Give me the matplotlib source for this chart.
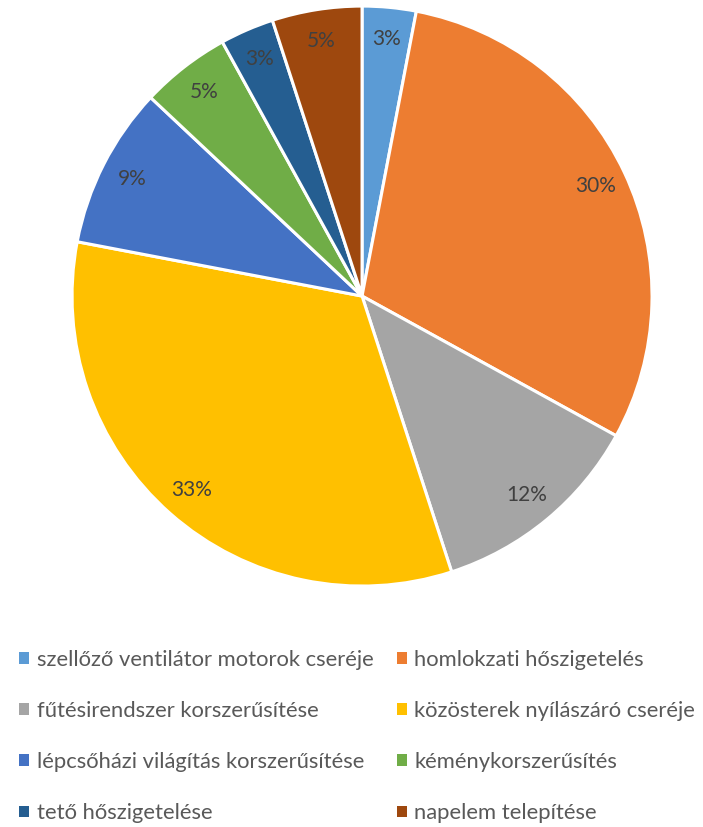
import matplotlib.pyplot as plt

plt.rcParams['font.family'] = ['Lato', 'DejaVu Sans']

labels = ['szellőző ventilátor motorok cseréje', 'homlokzati hőszigetelés',
          'fűtésirendszer korszerűsítése', 'közösterek nyílászáró cseréje',
          'lépcsőházi világítás korszerűsítése', 'kéménykorszerűsítés',
          'tető hőszigetelése', 'napelem telepítése']
shares = [3, 30, 12, 33, 9, 5, 3, 5]
colors = ['#5B9BD5', '#ED7D31', '#A5A5A5', '#FFC000',
          '#4472C4', '#70AD47', '#255E91', '#9E480E']

fig = plt.figure(figsize=(7.03, 8.27), dpi=100)
ax = fig.add_axes([0.515 - 0.4125, 0.642 - 0.3507, 0.825, 0.7014])

wedges, texts = ax.pie(shares, colors=colors, startangle=90, counterclock=False,
                       labels=[f'{v}%' for v in shares], labeldistance=0.89,
                       wedgeprops=dict(edgecolor='white', linewidth=2.2),
                       textprops=dict(color='#404040', fontsize=15))
for t in texts:
    t.set_horizontalalignment('center')
    t.set_verticalalignment('center')
ax.set_xlim(-1.0, 1.0)
ax.set_ylim(-1.0, 1.0)
ax.set_aspect('equal')

# legend fills row by row: left column even entries, right column odd
order = [0, 2, 4, 6, 1, 3, 5, 7]
leg = fig.legend([wedges[i] for i in order], [labels[i] for i in order],
                 ncol=2, loc='upper left',
                 bbox_to_anchor=(0.012, 0.2275), frameon=False,
                 fontsize=15.8, labelcolor='#595959',
                 handlelength=0.45, handleheight=0.45, handletextpad=0.35,
                 labelspacing=1.42, columnspacing=1.05, borderpad=0)
for h in leg.legend_handles:
    h.set_edgecolor('none')

fig.savefig('out.png', dpi=100)
